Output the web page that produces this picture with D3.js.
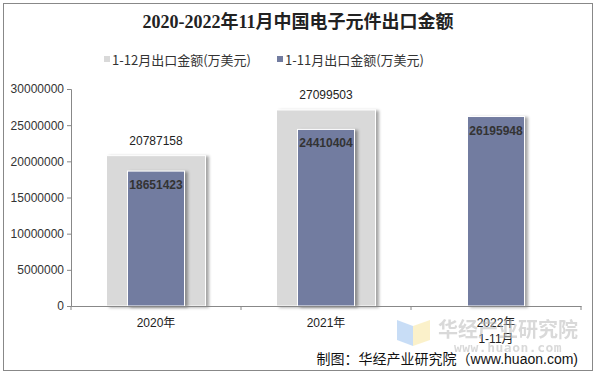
<!DOCTYPE html>
<html>
<head>
<meta charset="utf-8">
<script src="https://cdn.jsdelivr.net/npm/d3@7"></script>
<style>
  body { margin: 0; background: #fff; }
  svg { display: block; }
</style>
</head>
<body>
<div id="chart"></div>
<script>
// data
const categories = ["2020年", "2021年", "2022年\n1-11月"];
const fullYear = [20787158, 27099503, null];
const elevenMonths = [18651423, 24410404, 26195948];
const yTicks = [0, 5000000, 10000000, 15000000, 20000000, 25000000, 30000000];
const seriesNames = ["1-12月出口金额(万美元)", "1-11月出口金额(万美元)"];

const W = 597, H = 374;
const margin = { top: 89, right: 16, bottom: 68, left: 71 };

const svg = d3.select("#chart").append("svg")
  .attr("width", W).attr("height", H);

// shadow filter
const defs = svg.append("defs");
const f = defs.append("filter").attr("id", "shadow")
  .attr("x", "-20%").attr("y", "-10%").attr("width", "150%").attr("height", "130%");
f.append("feDropShadow").attr("dx", 3).attr("dy", 1).attr("stdDeviation", 1.6)
  .attr("flood-color", "#000").attr("flood-opacity", 0.35);

// frame
svg.append("rect").attr("x", 3.5).attr("y", 3.5).attr("width", 589).attr("height", 367)
  .attr("fill", "#fff").attr("stroke", "#888").attr("stroke-width", 1);

// title
svg.append("text").attr("x", 298).attr("y", 28).attr("text-anchor", "middle")
  .style("font-family", "'Liberation Serif','Noto Sans CJK SC'")
  .style("font-size", "18px").style("font-weight", "bold").attr("fill", "#222")
  .text("2020-2022年11月中国电子元件出口金额");

// legend
const legendColors = ["#d9d9d9", "#727ca0"];
const legendX = [104, 277];
seriesNames.forEach((name, i) => {
  svg.append("rect").attr("x", legendX[i]).attr("y", 56).attr("width", 6).attr("height", 6)
    .attr("fill", legendColors[i]);
  svg.append("text").attr("x", legendX[i] + 8).attr("y", 64.5)
    .style("font-family", "'Noto Sans CJK SC'").style("font-size", "13px").attr("fill", "#333")
    .text(name);
});

const g = svg.append("g").attr("transform", `translate(${margin.left},${margin.top})`);

const x = d3.scaleBand().domain(categories).range([0, 510]).padding(0);
const y = d3.scaleLinear().domain([0, 30000000]).range([217, 0]);

// y axis
const yAxis = g.append("g").call(d3.axisLeft(y).tickValues(yTicks).tickSize(4).tickFormat(d3.format("d")));
yAxis.select(".domain").attr("stroke", "#888");
yAxis.selectAll(".tick line").attr("stroke", "#888");
yAxis.selectAll("text").attr("fill", "#333")
  .style("font-family", "'Liberation Sans',Arial").style("font-size", "12px");

// bars
const outerW = 99, innerW = 57;
const bars = g.append("g");
categories.forEach((c, i) => {
  const cx = x(c) + x.bandwidth() / 2;
  if (fullYear[i] != null) {
    bars.append("rect").attr("x", cx - outerW / 2).attr("y", y(fullYear[i]))
      .attr("width", outerW).attr("height", y(0) - y(fullYear[i]))
      .attr("fill", "#d9d9d9").attr("stroke", "#fff").attr("stroke-width", 1)
      .attr("filter", "url(#shadow)");
    bars.append("text").attr("x", cx).attr("y", y(fullYear[i]) - 11).attr("text-anchor", "middle")
      .style("font-family", "'Liberation Sans',Arial").style("font-size", "12px").attr("fill", "#222")
      .text(fullYear[i]);
  }
  bars.append("rect").attr("x", cx - innerW / 2).attr("y", y(elevenMonths[i]))
    .attr("width", innerW).attr("height", y(0) - y(elevenMonths[i]))
    .attr("fill", "#727ca0").attr("stroke", "#fff").attr("stroke-width", 1)
    .attr("filter", "url(#shadow)");
  bars.append("text").attr("x", cx).attr("y", y(elevenMonths[i]) + 18).attr("text-anchor", "middle")
    .style("font-family", "'Liberation Sans',Arial").style("font-size", "12px")
    .style("font-weight", "bold").attr("fill", "#333")
    .text(elevenMonths[i]);
});

// x axis
const xAxis = g.append("g").attr("transform", `translate(0,${y(0)})`)
  .call(d3.axisBottom(x).tickSize(0).tickFormat(""));
xAxis.select(".domain").attr("stroke", "#888");
[0, 1, 2, 3].forEach(k => {
  xAxis.append("line").attr("x1", k * x.bandwidth()).attr("x2", k * x.bandwidth())
    .attr("y1", 0).attr("y2", 4).attr("stroke", "#888");
});

// watermark
const wm = svg.append("g").attr("opacity", 0.55);
wm.append("path").attr("d", "M397,320 L413,326 L413,346 L397,340 Z").attr("fill", "#9cc3f0");
wm.append("path").attr("d", "M413,326 L430,320 L430,340 L413,346 Z").attr("fill", "#f8e7a0");
wm.append("text").attr("x", 508).attr("y", 337).attr("text-anchor", "middle")
  .style("font-family", "'Noto Sans CJK SC'").style("font-size", "20px").style("font-weight", "bold")
  .attr("fill", "#bbb").text("华经产业研究院");
wm.append("text").attr("x", 508).attr("y", 352).attr("text-anchor", "middle")
  .style("font-family", "'DejaVu Sans Mono',monospace").style("font-size", "13px").style("font-weight", "bold")
  .attr("fill", "#bbb").attr("letter-spacing", "0.5px").text("www.huaon.com");

// x labels
categories.forEach(c => {
  const lines = c.split("\n");
  const t = g.append("text").attr("x", x(c) + x.bandwidth() / 2).attr("y", y(0) + 21)
    .attr("text-anchor", "middle")
    .style("font-family", "'Liberation Sans','Noto Sans CJK SC'").style("font-size", "12px").attr("fill", "#222");
  lines.forEach((l, j) => t.append("tspan").attr("x", x(c) + x.bandwidth() / 2).attr("dy", j ? 16 : 0).text(l));
});

// credit
svg.append("text").attr("x", 578).attr("y", 364).attr("text-anchor", "end")
  .style("font-family", "'Liberation Sans','Noto Sans CJK SC'").style("font-size", "14px").attr("fill", "#111")
  .text("制图：华经产业研究院（www.huaon.com)");
</script>
</body>
</html>
